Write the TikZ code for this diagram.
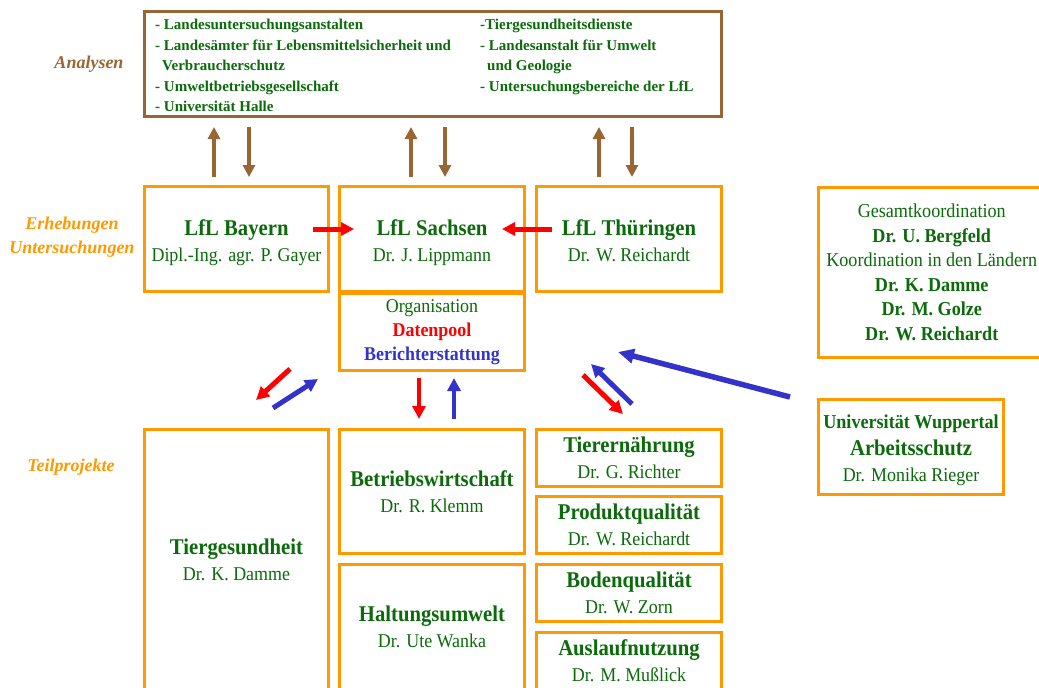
\documentclass[tikz,border=0pt]{standalone}
\usepackage{fontspec}
\setmainfont{Liberation Serif}
\newfontfamily\cond{Liberation Serif}[FakeStretch=0.92]
\usetikzlibrary{arrows.meta}
\definecolor{grn}{HTML}{0B6B0B}
\definecolor{orng}{HTML}{FF9900}
\definecolor{brn}{HTML}{996633}
\definecolor{rd}{HTML}{FF0000}
\definecolor{bl}{HTML}{3333CC}
\newcommand{\Tt}[1]{{\fontsize{22.5}{26}\selectfont\bfseries #1}}
\newcommand{\Tb}[1]{{\fontsize{19.7}{24.5}\selectfont\bfseries #1}}
\newcommand{\Up}{\rule{0pt}{24.5pt}}
\newcommand{\Dn}{\rule[-6pt]{0pt}{6pt}}
\begin{document}
\begin{tikzpicture}[x=1pt,y=-1pt,
  obox/.style={draw=orng, line width=3pt, inner sep=0pt, align=center, text=grn,
    font=\cond\fontsize{19.5}{26}\selectfont},
  lbl/.style={font=\fontsize{18}{24}\selectfont\bfseries\itshape, align=center},
  tcol/.style={anchor=north west, inner sep=0pt, align=left, text=grn,
    font=\fontsize{15}{20.5}\selectfont\bfseries},
  brarr/.style={draw=brn, line width=4.5pt, -{Triangle[length=12pt,width=12pt]}},
  rarr/.style={draw=rd, line width=5pt, -{Triangle[length=13pt,width=13pt]}},
  barr/.style={draw=bl, line width=5pt, -{Triangle[length=13pt,width=13pt]}}]
\useasboundingbox (0,0) rectangle (1039,688);
\fill[white] (0,0) rectangle (1039,688);

% labels
\node[lbl, text=brn] (lana) at (89,64) {Analysen};
\node[lbl, text=orng] (lerh) at (72,237) {Erhebungen\\Untersuchungen};
\node[lbl, text=orng] (lteil) at (71,467) {Teilprojekte};

% top box
\node[draw=brn, line width=3pt, minimum width=577pt, minimum height=105pt, inner sep=0pt] (ana) at (433,64) {};
\node[tcol] (col1) at (155,19) {- Landesuntersuchungsanstalten\\- Landesämter für Lebensmittelsicherheit und\\\hspace*{7pt}Verbraucherschutz\\- Umweltbetriebsgesellschaft\\- Universität Halle};
\node[tcol] (col2) at (480,19) {-Tiergesundheitsdienste\\- Landesanstalt für Umwelt\\\hspace*{7pt}und Geologie\\- Untersuchungsbereiche der LfL};

% LfL row
\node[obox, minimum width=184pt, minimum height=105pt] (bay) at (236.5,239) {\Tt{\Up LfL Bayern}\\Dipl.-Ing. agr. P. Gayer\Dn};
\node[obox, minimum width=185pt, minimum height=105pt] (sac) at (432,239) {\Tt{\Up LfL Sachsen}\\Dr. J. Lippmann\Dn};
\node[obox, minimum width=185pt, minimum height=77.5pt, font=\cond\fontsize{19.5}{24}\selectfont] (org) at (432,332) {Organisation\\\textcolor{rd}{\bfseries Datenpool}\\\textcolor{bl}{\bfseries Berichterstattung}};
\node[obox, minimum width=185pt, minimum height=105pt] (thu) at (629,239) {\Tt{\Up LfL Thüringen}\\Dr. W. Reichardt\Dn};

% right boxes
\node[obox, minimum width=226.5pt, minimum height=170.5pt, font=\cond\fontsize{19.7}{24.5}\selectfont] (ges) at (931.75,272.5) {Gesamtkoordination\\\Tb{Dr. U. Bergfeld}\\Koordination in den Ländern\\\Tb{Dr. K. Damme}\\\Tb{Dr. M. Golze}\\\Tb{Dr. W. Reichardt}};
\node[obox, minimum width=185pt, minimum height=95pt, font=\cond\fontsize{19.5}{26.5}\selectfont] (wup) at (911,447) {\Tb{\rule{0pt}{21pt}Universität Wuppertal}\\\Tt{Arbeitsschutz}\\Dr. Monika Rieger};

% Teilprojekte
\node[obox, minimum width=184pt, minimum height=261pt] (tges) at (236.5,560) {\Tt{Tiergesundheit}\\Dr. K. Damme};
\node[obox, minimum width=185pt, minimum height=123.5pt] (betr) at (432,491.25) {\Tt{Betriebswirtschaft}\\Dr. R. Klemm};
\node[obox, minimum width=185pt, minimum height=125.5pt] (halt) at (432,627.25) {\Tt{Haltungsumwelt}\\Dr. Ute Wanka};
\node[obox, minimum width=185pt, minimum height=56.5pt] (tern) at (629,457.75) {\Tt{Tierernährung}\\Dr. G. Richter};
\node[obox, minimum width=185pt, minimum height=57pt] (prod) at (629,525) {\Tt{Produktqualität}\\Dr. W. Reichardt};
\node[obox, minimum width=185pt, minimum height=57pt] (bod) at (629,593) {\Tt{Bodenqualität}\\Dr. W. Zorn};
\node[obox, minimum width=185pt, minimum height=57.5pt] (aus) at (629,661) {\Tt{Auslaufnutzung}\\Dr. M. Mußlick};

% brown arrows
\coordinate (a1) at (214,177); \coordinate (a1e) at (214,127);
\coordinate (a2) at (249,127); \coordinate (a2e) at (249,177);
\coordinate (a3) at (411,177); \coordinate (a3e) at (411,127);
\coordinate (a4) at (445,127); \coordinate (a4e) at (445,177);
\coordinate (a5) at (599,177); \coordinate (a5e) at (599,127);
\coordinate (a6) at (632,127); \coordinate (a6e) at (632,177);
\draw[brarr] (a1) -- (a1e);
\draw[brarr] (a2) -- (a2e);
\draw[brarr] (a3) -- (a3e);
\draw[brarr] (a4) -- (a4e);
\draw[brarr] (a5) -- (a5e);
\draw[brarr] (a6) -- (a6e);

% red horizontal
\coordinate (h1) at (313,229); \coordinate (h1e) at (354,229);
\coordinate (h2) at (552,229); \coordinate (h2e) at (502,229);
\draw[rarr] (h1) -- (h1e);
\draw[rarr] (h2) -- (h2e);

% left diagonal
\coordinate (d1) at (290,369); \coordinate (d1e) at (256,400);
\coordinate (d2) at (273,408); \coordinate (d2e) at (318,379);
\draw[rarr] (d1) -- (d1e);
\draw[barr] (d2) -- (d2e);

% vertical
\coordinate (v1) at (419,378); \coordinate (v1e) at (419,419);
\coordinate (v2) at (454,419); \coordinate (v2e) at (454,378);
\draw[rarr, line width=4pt] (v1) -- (v1e);
\draw[barr, line width=4pt] (v2) -- (v2e);

% right diagonal
\coordinate (r1) at (583,375); \coordinate (r1e) at (623,414);
\coordinate (r2) at (632,404); \coordinate (r2e) at (591,364);
\draw[rarr] (r1) -- (r1e);
\draw[barr] (r2) -- (r2e);

% long blue
\coordinate (lb) at (790,397); \coordinate (lbe) at (618,352);
\draw[barr, line width=5.5pt, -{Triangle[length=16pt,width=14pt]}] (lb) -- (lbe);
\end{tikzpicture}
\end{document}
